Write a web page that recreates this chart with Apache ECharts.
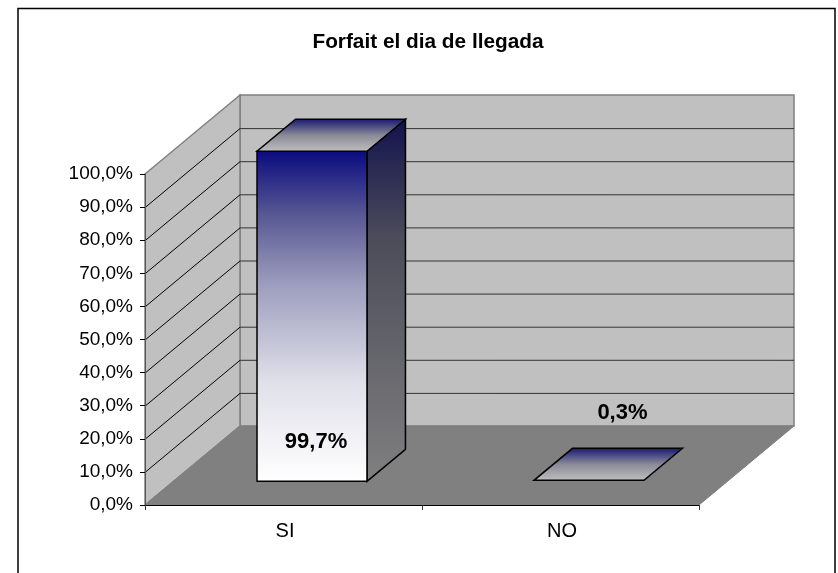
<!DOCTYPE html>
<html><head><meta charset="utf-8">
<style>html,body{margin:0;padding:0;background:#fff}#c{width:838px;height:573px}</style>
<script src="https://cdn.jsdelivr.net/npm/echarts@6/dist/echarts.min.js"></script>
</head><body><div id="c"></div>
<script>
const titleText = 'Forfait el dia de llegada';
const categories = ['SI', 'NO'];
const values = [99.7, 0.3];
const yTicks = [0,10,20,30,40,50,60,70,80,90,100];

// oblique projection of the depth axis, in pixels
const DX = 95, DY = -79;
const BAR_W = 0.397, D0 = 0.30, D1 = 0.705;
const FONT = '"Liberation Sans", Arial, sans-serif';
const fmt = v => v.toFixed(1).replace('.', ',') + '%';
const vgrad = (stops) => ({type:'linear',x:0,y:0,x2:0,y2:1,colorStops:stops.map((c)=>({offset:c[0],color:c[1]}))});

const chart = echarts.init(document.getElementById('c'), null, {renderer:'canvas'});

function renderWalls(params, api){
  const o = api.coord([0,0]), t = api.coord([0,100]);
  const cs = params.coordSys, L = cs.x, R = cs.x+cs.width, B = o[1], T = t[1];
  const poly = (pts, fill, stroke, w) => ({type:'polygon',shape:{points:pts},style:{fill,stroke:stroke||fill,lineWidth:w||1}});
  return {type:'group',silent:true,children:[
    poly([[L+DX,T+DY],[R+DX,T+DY],[R+DX,B+DY],[L+DX,B+DY]],'#c0c0c0','#808080',1.5),
    poly([[L,T],[L+DX,T+DY],[L+DX,B+DY],[L,B]],'#c0c0c0','#808080',1.5),
    poly([[L,B],[L+DX,B+DY],[R+DX,B+DY],[R,B]],'#808080','#808080',1)
  ]};
}
function renderGrid(params, api){
  const v = api.value(1); if (v === 0 || v === 100) return null;
  const cs = params.coordSys, y = api.coord([0,v])[1], L = cs.x, R = cs.x+cs.width;
  const ls = {stroke:'#000',lineWidth:1,fill:null};
  return {type:'group',silent:true,children:[
    {type:'polyline',shape:{points:[[L,y+.5],[L+DX,y+DY+.5]]},style:ls},
    {type:'polyline',shape:{points:[[L+DX,y+DY+.5],[R+DX,y+DY+.5]]},style:Object.assign({},ls,{stroke:'#333'})}
  ]};
}
function renderBar(params, api){
  const i = api.value(0), v = api.value(1);
  const c0 = api.coord([i,0]), c1 = api.coord([i,v]);
  const bw = api.size([1,0])[0]*BAR_W;
  const x0 = c0[0]-bw/2+DX*D0, x1 = x0+bw;
  const yb = c0[1]+DY*D0, yt = c1[1]+DY*D0;
  const ox = DX*(D1-D0), oy = DY*(D1-D0);
  const edge = {stroke:'#000',lineWidth:1.5,lineJoin:'miter'};
  const P = (pts, fill) => ({type:'polygon',shape:{points:pts},style:Object.assign({fill},edge)});
  const inside = v > 50;
  const children = [];
  if (yb-yt > 1){
    children.push(P([[x1,yt],[x1+ox,yt+oy],[x1+ox,yb+oy],[x1,yb]], vgrad([[0,'#12124e'],[0.33,'#4c4c5a'],[1,'#808080']])));
    children.push(P([[x0,yt],[x1,yt],[x1,yb],[x0,yb]], vgrad([[0,'#0a0a80'],[0.2,'#5a5a94'],[0.4,'#9c9cbd'],[0.7,'#e0e0ea'],[1,'#ffffff']])));
  }
  children.push(P([[x0,yt],[x1,yt],[x1+ox,yt+oy],[x0+ox,yt+oy]], vgrad([[0,'#16166e'],[0.5,'#8a8a98'],[1,'#c0c0c0']])));
  children.push({type:'text',style:{
    text:fmt(v), x: inside ? (x0+x1)/2+4 : x1+ox-60, y: inside ? yb-39 : yt+oy-35,
    align:'center',verticalAlign:'middle',
    font:'bold 22px '+FONT, fill:'#000'}});
  return {type:'group',children};
}

chart.setOption({
  animation:false,
  backgroundColor:'#fff',
  graphic:[{type:'rect',z:0,silent:true,shape:{x:18,y:8.5,width:817,height:600},style:{fill:'#fff',stroke:'#000',lineWidth:1.5}}],
  title:{text:titleText,left:423,top:27,textAlign:'center',textStyle:{fontFamily:FONT,fontSize:20.8,fontWeight:'bold',color:'#000'}},
  grid:{left:145,right:139,top:174,bottom:68,containLabel:false},
  xAxis:{type:'category',data:categories,z:5,
    axisLine:{lineStyle:{color:'#000',width:1}},
    axisTick:{show:true,length:5,lineStyle:{color:'#333'}},
    axisLabel:{fontFamily:FONT,fontSize:20,color:'#000',margin:16,padding:[0,0,0,3]},
    splitLine:{show:false}},
  yAxis:{type:'value',min:0,max:100,interval:10,z:5,
    axisLine:{show:true,lineStyle:{color:'#555',width:1}},
    axisTick:{show:true,length:5,lineStyle:{color:'#000'}},
    axisLabel:{fontFamily:FONT,fontSize:19,color:'#000',margin:12,formatter:fmt},
    splitLine:{show:false}},
  series:[
    {type:'custom',z:1,clip:false,silent:true,renderItem:renderWalls,data:[[0,0]],encode:{x:0,y:1}},
    {type:'custom',z:2,clip:false,silent:true,renderItem:renderGrid,data:yTicks.map(v=>[0,v]),encode:{x:0,y:1}},
    {type:'custom',z:3,clip:false,silent:true,renderItem:renderBar,data:values.map((v,i)=>[i,v]),encode:{x:0,y:1}}
  ]
});
</script></body></html>
